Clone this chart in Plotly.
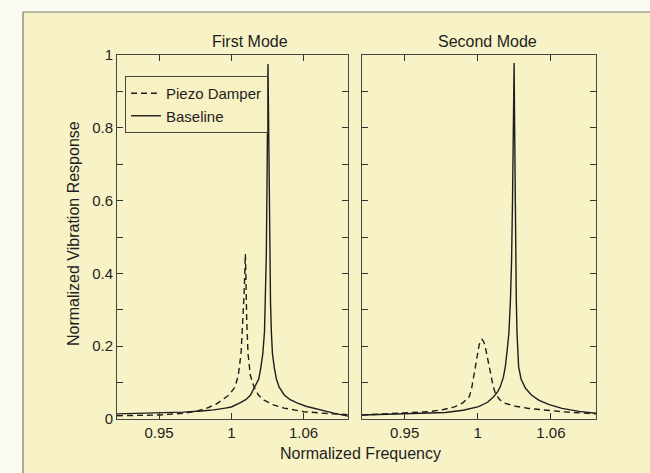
import plotly.graph_objects as go

# ---------------- data ----------------
# First mode, baseline (solid)
m1_base_x = [0.905, 0.92, 0.94, 0.96, 0.975, 0.9856, 0.995, 1.000, 1.0072, 1.012,
             1.016, 1.0197, 1.0228, 1.0245, 1.0262, 1.0276, 1.0284, 1.0291, 1.0297, 1.0302,
             1.0305, 1.0309, 1.0314, 1.0320, 1.0326, 1.0333, 1.0342, 1.0358, 1.0375, 1.0397,
             1.044, 1.049, 1.0546, 1.062, 1.0737, 1.085, 1.097]
m1_base_y = [0.014, 0.015, 0.016, 0.019, 0.022, 0.025, 0.030, 0.033, 0.044, 0.053,
             0.066, 0.088, 0.11, 0.14, 0.18, 0.24, 0.32, 0.45, 0.65, 0.85,
             0.975, 0.85, 0.65, 0.45, 0.32, 0.24, 0.18, 0.14, 0.11, 0.088,
             0.066, 0.053, 0.044, 0.035, 0.025, 0.016, 0.008]
# First mode, piezo damper (dashed)
m1_piezo_x = [0.905, 0.925, 0.94, 0.9607, 0.972, 0.9798, 0.987, 0.9923, 0.998, 1.0031,
              1.0058, 1.0081, 1.0097, 1.0106, 1.0112, 1.0117, 1.0121, 1.0124, 1.0128, 1.0139,
              1.0158, 1.0189, 1.0225, 1.0272, 1.035, 1.0438, 1.0604, 1.08, 1.097]
m1_piezo_y = [0.009, 0.010, 0.011, 0.016, 0.022, 0.030, 0.040, 0.052, 0.066, 0.088,
              0.12, 0.18, 0.272, 0.34, 0.40, 0.453, 0.40, 0.34, 0.272, 0.18,
              0.12, 0.088, 0.066, 0.052, 0.039, 0.030, 0.020, 0.015, 0.012]
# Second mode, baseline (solid)
m2_base_x = [0.905, 0.93, 0.955, 0.9733, 0.988, 1.0007, 1.008, 1.013, 1.0165, 1.0185,
             1.021, 1.0226, 1.0240, 1.0255, 1.0268, 1.0277, 1.0285, 1.0291, 1.0298,
             1.0303, 1.0307, 1.0311, 1.0316, 1.0322, 1.0335, 1.0355, 1.039, 1.044, 1.050,
             1.058, 1.0691, 1.083, 1.097]
m2_base_y = [0.011, 0.013, 0.015, 0.018, 0.024, 0.034, 0.046, 0.061, 0.076, 0.089,
             0.115, 0.144, 0.185, 0.235, 0.327, 0.43, 0.60, 0.78, 0.978,
             0.78, 0.60, 0.43, 0.327, 0.235, 0.144, 0.11, 0.085, 0.066, 0.052,
             0.040, 0.029, 0.021, 0.016]
# Second mode, piezo damper (dashed)
m2_piezo_x = [0.905, 0.935, 0.9597, 0.972, 0.9815, 0.988, 0.993, 0.9950, 0.9966, 0.9982,
              0.9993, 1.0012, 1.0034, 1.0048, 1.0061, 1.0082, 1.0103, 1.0124, 1.0144, 1.018,
              1.0226, 1.031, 1.0418, 1.055, 1.0691, 1.097]
m2_piezo_y = [0.011, 0.015, 0.020, 0.026, 0.034, 0.045, 0.061, 0.085, 0.116, 0.146,
              0.171, 0.205, 0.219, 0.213, 0.199, 0.163, 0.125, 0.094, 0.070, 0.053,
              0.043, 0.035, 0.029, 0.024, 0.020, 0.014]

x_tick_vals = [0.94, 1.00, 1.06]
x_tick_text = ["0.95", "1", "1.06"]
y_tick_vals = [0, 0.1, 0.2, 0.3, 0.4, 0.5, 0.6, 0.7, 0.8, 0.9, 1.0]
y_tick_text = ["0", "", "0.2", "", "0.4", "", "0.6", "", "0.8", "", "1"]
panel_titles = ["First Mode", "Second Mode"]
series_names = ["Piezo Damper", "Baseline"]
x_title = "Normalized Frequency"
y_title = "Normalized Vibration Response"

# ---------------- figure ----------------
FONT = "Liberation Sans, Arial, Helvetica, sans-serif"
INK = "#1e1e1e"
W, H = 650, 473
L, R, T, B = 117, 54, 55, 54

fig = go.Figure()
dash = "6px,4px"
LW = 1.4
fig.add_trace(go.Scatter(x=m1_piezo_x, y=m1_piezo_y, mode="lines", name=series_names[0],
                         line=dict(color=INK, width=LW, dash=dash), xaxis="x", yaxis="y"))
fig.add_trace(go.Scatter(x=m1_base_x, y=m1_base_y, mode="lines", name=series_names[1],
                         line=dict(color=INK, width=LW), xaxis="x", yaxis="y"))
fig.add_trace(go.Scatter(x=m2_piezo_x, y=m2_piezo_y, mode="lines", name=series_names[0],
                         showlegend=False,
                         line=dict(color=INK, width=LW, dash=dash), xaxis="x2", yaxis="y2"))
fig.add_trace(go.Scatter(x=m2_base_x, y=m2_base_y, mode="lines", name=series_names[1],
                         showlegend=False,
                         line=dict(color=INK, width=LW), xaxis="x2", yaxis="y2"))

pw = W - L - R
ph = H - T - B
d1 = [0, (348 - L) / pw]
d2 = [(362 - L) / pw, 1]

xax = dict(range=[0.905, 1.097], tickvals=x_tick_vals, ticktext=x_tick_text,
           ticks="inside", ticklen=6, tickcolor="#333", showline=True, linecolor="#444",
           linewidth=1, mirror="ticks", showgrid=False, zeroline=False,
           tickfont=dict(family=FONT, size=15, color=INK))
yax = dict(range=[0, 1], tickvals=y_tick_vals, ticktext=y_tick_text,
           ticks="inside", ticklen=6, tickcolor="#333", showline=True, linecolor="#444",
           linewidth=1, mirror="ticks", showgrid=False, zeroline=False,
           tickfont=dict(family=FONT, size=15, color=INK))

fig.update_layout(
    width=W, height=H,
    margin=dict(l=L, r=R, t=T, b=B, pad=0),
    paper_bgcolor="#fbfaf3",
    plot_bgcolor="#fcfbf5",
    font=dict(family=FONT, size=15, color=INK),
    xaxis=dict(xax, domain=d1, anchor="y"),
    xaxis2=dict(xax, domain=d2, anchor="y2"),
    yaxis=dict(yax, domain=[0, 1], anchor="x"),
    yaxis2=dict(yax, domain=[0, 1], anchor="x2", showticklabels=False),
    legend=dict(x=(125 - L) / pw, y=(H - B - 76) / ph, xanchor="left", yanchor="top",
                bgcolor="#f8f1c3", bordercolor="#444", borderwidth=1,
                font=dict(family=FONT, size=15, color=INK), itemwidth=30,
                tracegroupgap=0),
    showlegend=True,
)

# yellow panel behind everything, with thin top/left border
px2x = lambda p: (p - L) / pw
py2y = lambda p: (H - B - p) / ph
fig.add_shape(type="rect", xref="paper", yref="paper",
              x0=px2x(23), x1=px2x(W + 5), y0=py2y(H + 5), y1=py2y(12),
              fillcolor="#f8f3c6", line=dict(width=0), layer="below")
fig.add_shape(type="line", xref="paper", yref="paper",
              x0=px2x(23), x1=px2x(W + 5), y0=py2y(12), y1=py2y(12),
              line=dict(color="#7d7a68", width=1.2), layer="below")
fig.add_shape(type="line", xref="paper", yref="paper",
              x0=px2x(23), x1=px2x(23), y0=py2y(12), y1=py2y(H + 5),
              line=dict(color="#7d7a68", width=1.2), layer="below")

def label(text, px, py, size=16, angle=0):
    fig.add_annotation(text=text, xref="paper", yref="paper",
                       x=px2x(px), y=py2y(py), xanchor="center", yanchor="middle",
                       showarrow=False, textangle=angle,
                       font=dict(family=FONT, size=size, color=INK))

label(panel_titles[0], 250, 42)
label(panel_titles[1], 487, 42)
label(x_title, 360, 453)
label(y_title, 73, 234)
fig.layout.annotations[-1].textangle = -90

fig.write_html("out.html",
               config={"displayModeBar": False},
               post_script="document.body.style.margin='0';"
                           "document.body.style.padding='0';"
                           "document.body.style.overflow='hidden';")
